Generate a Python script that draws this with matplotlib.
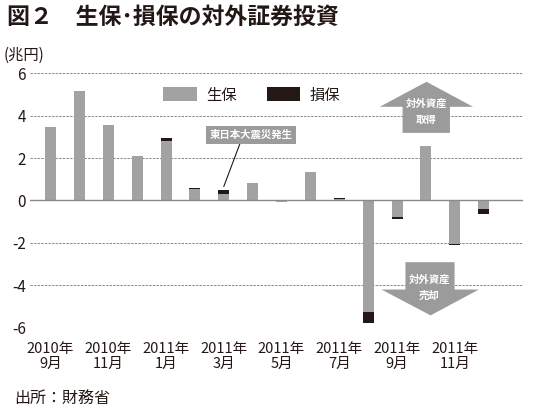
import matplotlib
matplotlib.use("Agg")
import matplotlib.pyplot as plt
import numpy as np
from matplotlib.patches import Polygon, Patch

plt.rcParams['font.family'] = ['Noto Sans CJK JP', 'DejaVu Sans']

months = ["2010年\n9月", "10", "2010年\n11月", "12", "2011年\n1月", "2", "2011年\n3月", "4",
          "2011年\n5月", "6", "2011年\n7月", "8", "2011年\n9月", "10", "2011年\n11月", "12"]
seiho = [3.48, 5.16, 3.55, 2.11, 2.80, 0.55, 0.30, 0.83,
         -0.05, 1.35, 0.08, -5.27, -0.77, 2.59, -2.03, -0.38]
sonpo = [-0.04, -0.02, -0.02, -0.04, 0.17, 0.05, 0.18, 0.0,
         -0.03, -0.02, 0.05, -0.53, -0.08, -0.04, -0.09, -0.25]
yticks = [6, 4, 2, 0, -2, -4, -6]
tick_idx = [0, 2, 4, 6, 8, 10, 12, 14]

GRAY = "#a2a2a2"
ARROW = "#9b9b9b"
BLACK = "#231815"

fig = plt.figure(figsize=(5.4, 4.11), dpi=100)
ax = fig.add_axes([30/540, 1-327.7/411, (523-30)/540, (327.7-73.3)/411])

x = np.arange(len(seiho))
s = np.array(seiho)
b = np.array(sonpo)
bottom = np.where(np.sign(s) == np.sign(b), s, 0.0)
ax.bar(x, s, width=0.38, color=GRAY, zorder=3)
ax.bar(x, b, width=0.38, bottom=bottom, color=BLACK, zorder=3)

ax.set_xlim(-0.71, 16.36)
ax.set_ylim(-6, 6)
ax.set_yticks(yticks)
ax.set_yticklabels([str(v) for v in yticks])
ax.set_xticks(tick_idx)
ax.set_xticklabels([months[i] for i in tick_idx], linespacing=1.15)
ax.tick_params(axis='y', length=0, pad=3, labelsize=11, colors="#231815")
ax.tick_params(axis='x', length=0, pad=10, labelsize=10.5, colors="#231815")
for sp in ax.spines.values():
    sp.set_visible(False)
for v in yticks:
    if v == 0:
        ax.axhline(0, color="#8a8a8a", lw=1.0, zorder=4)
    else:
        ax.axhline(v, color="#8a8a8a", lw=0.7, ls=(0, (2.5, 1.2)), zorder=1)

# legend
handles = [Patch(facecolor=GRAY, edgecolor='none', label="生保"),
           Patch(facecolor=BLACK, edgecolor='none', label="損保")]
fig.legend(handles=handles, loc='center', bbox_to_anchor=(251.5/540, 1-95/411), ncol=2,
           frameon=False, fontsize=11, handlelength=2.2, handleheight=1.05,
           handletextpad=0.6, columnspacing=2.0, labelcolor="#231815")

# annotation
ax.annotate("東日本大震災発生", xy=(6.0, 0.66), xytext=(6.95, 3.09),
            ha='center', va='center', color='white', fontsize=7.5, fontweight='bold',
            bbox=dict(boxstyle='square,pad=0.35', fc=ARROW, ec='none'),
            arrowprops=dict(arrowstyle='-', color="#231815", lw=0.8,
                            shrinkA=0, shrinkB=0, relpos=(0.38, 0.0)), zorder=6)

# arrows
up = [(12.19, 3.19), (12.19, 4.42), (11.40, 4.42), (13.02, 5.60), (14.63, 4.42),
      (13.83, 4.42), (13.83, 3.19)]
down = [(12.29, -2.91), (12.29, -4.20), (11.46, -4.20), (13.16, -5.42), (14.83, -4.20),
        (13.99, -4.20), (13.99, -2.91)]
ax.add_patch(Polygon(up, closed=True, fc=ARROW, ec='none', zorder=5))
ax.add_patch(Polygon(down, closed=True, fc=ARROW, ec='none', zorder=5))
ax.text(13.02, 4.18, "対外資産\n取得", ha='center', va='center', color='white',
        fontsize=7.5, fontweight='bold', linespacing=1.7, zorder=6)
ax.text(13.12, -4.13, "対外資産\n売却", ha='center', va='center', color='white',
        fontsize=7.5, fontweight='bold', linespacing=1.7, zorder=6)

fig.text(7/540, 1-17/411, "図２　生保･損保の対外証券投資", ha='left', va='center',
         fontsize=16.5, fontweight='bold', color="#231815")
fig.text(4/540, 1-55/411, "(兆円)", ha='left', va='center', fontsize=11, color="#231815")
fig.text(14/540, 1-398/411, "出所：財務省", ha='left', va='center', fontsize=11.5, color="#231815")

fig.savefig("out.png", dpi=100)
